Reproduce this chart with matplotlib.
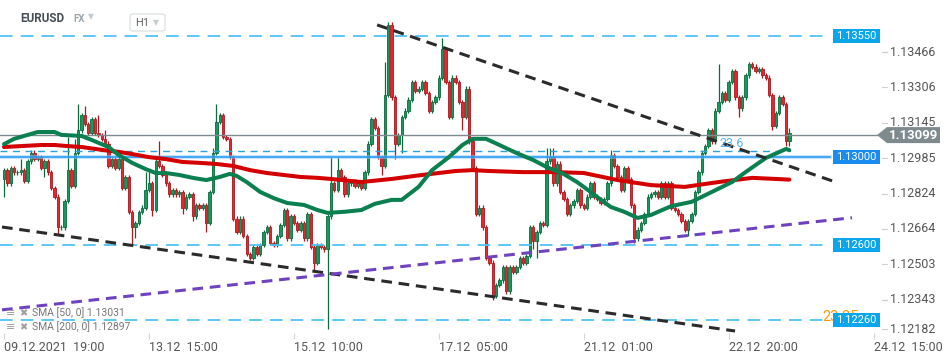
import matplotlib
matplotlib.use("Agg")
import matplotlib.pyplot as plt
from matplotlib.patches import Rectangle, Polygon, FancyBboxPatch
import numpy as np

plt.rcParams['font.family'] = ['Roboto', 'DejaVu Sans']

BASE = 1.12  # every *_pips value below is pips (0.0001) above 1.1200

# EURUSD H1 closes, candle 0 = 09.12 19:00
close_pips = [
    94, 88, 95, 93, 93, 94, 89, 98, 102, 99,
    100, 95, 98, 93, 86, 82, 68, 68, 80, 94,
    87, 102, 112, 119, 115, 111, 117, 111, 110, 108,
    106, 96, 99, 95, 99, 86, 91, 75, 68, 70,
    75, 77, 85, 88, 76, 98, 96, 92, 88, 83,
    85, 83, 84, 77, 82, 83, 73, 78, 77, 78,
    70, 84, 102, 116, 119, 109, 108, 100, 72, 66,
    72, 64, 56, 54, 59, 56, 60, 66, 68, 61,
    60, 64, 69, 76, 63, 73, 70, 67, 70, 63,
    74, 59, 52, 60, 59, 58, 73, 88, 85, 94,
    91, 83, 88, 89, 87, 88, 86, 93, 106, 117,
    113, 100, 96, 128, 160, 127, 106, 110, 118, 121,
    126, 134, 130, 131, 134, 129, 121, 125, 127, 136,
    149, 134, 118, 136, 134, 125, 118, 131, 107, 95,
    74, 77, 68, 54, 52, 37, 42, 44, 50, 39,
    50, 48, 50, 54, 52, 55, 68, 62, 66, 70,
    69, 98, 100, 88, 97, 84, 81, 74, 78, 80,
    85, 78, 77, 82, 88, 82, 81, 79, 81, 88,
    101, 96, 91, 85, 95, 90, 78, 63, 67, 70,
    74, 82, 83, 84, 82, 88, 82, 88, 77, 76,
    74, 71, 67, 71, 74, 84, 93, 102, 105, 112,
    107, 121, 125, 129, 126, 134, 139, 127, 122, 127,
    137, 142, 141, 139, 140, 137, 136, 128, 114, 120,
    127, 124, 107, 111,
]
first_open_pips = 90
# wick ends that stand out on the chart (candle index: pips); the rest get a short wick
high_pips = {5: 99, 19: 109, 21: 108, 22: 124, 24: 123, 28: 119, 30: 112, 42: 93,
             43: 93, 46: 107, 62: 104, 63: 124, 97: 100, 99: 100, 113: 143, 114: 161,
             115: 161, 130: 154, 161: 104, 162: 104, 163: 104, 180: 103, 212: 142, 233: 113}
low_pips = {0: 82, 12: 91, 16: 65, 38: 60, 39: 63, 44: 73, 53: 74, 56: 71, 60: 66,
            92: 48, 96: 22, 112: 92, 116: 99, 118: 102, 136: 112, 145: 35, 157: 58,
            158: 54, 187: 61, 203: 64, 218: 118, 228: 112, 232: 105, 233: 105}
WICK = 1.0

sma50_idx = [0, 3, 10, 15, 17, 23, 26, 31, 34, 38, 42, 45, 48, 52, 56, 60, 64, 67, 69, 72,
             76, 80, 84, 89, 93, 96, 101, 106, 110, 115, 118, 123, 127, 132, 136, 139, 143,
             147, 152, 157, 161, 166, 170, 172, 176, 180, 184, 188, 192, 198, 204, 210, 216,
             220, 226, 232, 233]
sma50_pips = [105.8, 108.2, 111.3, 111.3, 110.0, 109.5, 107.7, 104.5, 100.9, 97.3, 94.5,
              92.7, 92.7, 91.8, 90.5, 89.5, 90.9, 92.3, 91.4, 88.6, 84.1, 81.3, 79.1, 78.2,
              75.9, 74.6, 75.1, 75.9, 78.7, 80.5, 80.5, 86.4, 94.0, 99.9, 105.4, 108.2, 108.2,
              105.4, 101.8, 98.6, 95.4, 92.3, 88.6, 86.4, 81.8, 77.3, 75.1, 72.3, 73.7, 77.7,
              79.6, 84.1, 88.6, 93.1, 99.5, 103.6, 103.1]
sma200_idx = [0, 11, 15, 19, 23, 29, 34, 38, 43, 48, 53, 58, 63, 68, 73, 78, 83, 88, 93, 97,
              106, 115, 124, 134, 139, 144, 154, 164, 172, 182, 192, 202, 212, 222, 233]
sma200_pips = [104.5, 105.4, 105.4, 104.9, 104.5, 103.2, 102.3, 101.3, 99.9, 99.0, 97.7,
               97.3, 96.8, 95.9, 94.0, 92.7, 91.8, 90.9, 90.5, 90.0, 88.6, 90.0, 91.8, 93.6,
               94.0, 93.6, 93.1, 93.1, 92.7, 89.5, 87.2, 86.4, 88.6, 90.5, 89.7]

levels = [1.13550, 1.13000, 1.12600, 1.12260]
last_price = 1.13099
fib_236 = 1.13025
upper_tl = [(110.7, 1.13599), (247.5, 1.12882)]
lower_tl = [(-0.6, 1.12682), (216.9, 1.12210)]
purple_tl = [(-0.6, 1.12306), (251.6, 1.12724)]

xtick_idx = [0, 43, 86, 129, 172, 215, 258]
xtick_lab = ["09.12.2021  19:00", "13.12  15:00", "15.12  10:00", "17.12  05:00",
             "21.12  01:00", "22.12  20:00", "24.12  15:00"]
ytick_vals = [1.13466, 1.13306, 1.13145, 1.12985, 1.12824, 1.12664, 1.12503, 1.12343, 1.12182]

GREEN, GREEN_E = '#17985c', '#0b6b3c'
RED, RED_E = '#e5262f', '#b0161e'
LBLUE = '#4fc3f7'

W, H = 950, 361
fig = plt.figure(figsize=(W / 100, H / 100), dpi=100)
fig.patch.set_facecolor('white')
AX_B, AX_H, AX_W = 28, 333, 880
ax = fig.add_axes([0, AX_B / H, AX_W / W, AX_H / H])
ylo, yhi = 1.12201, 1.13712
ax.set_xlim(-1.19, 259.9)
ax.set_ylim(ylo, yhi)
for s in ax.spines.values():
    s.set_visible(False)
ax.set_yticks([])

def ypix(v):
    # pixel row (from top of figure) of a price
    return (yhi - v) / (yhi - ylo) * AX_H

def fpt(x, y):
    return (x / W, 1 - y / H)

# candles
n = len(close_pips)
idx = np.arange(n)
c = BASE + np.array(close_pips, float) / 1e4
o = np.r_[BASE + first_open_pips / 1e4, c[:-1]]
hi = np.maximum(o, c) + WICK / 1e4
lo = np.minimum(o, c) - WICK / 1e4
for k, v in high_pips.items():
    hi[k] = BASE + v / 1e4
for k, v in low_pips.items():
    lo[k] = BASE + v / 1e4
up = c >= o
body = np.maximum(np.abs(c - o), 0.00003)
ax.vlines(idx[up], lo[up], hi[up], color=GREEN_E, lw=0.9, zorder=3)
ax.vlines(idx[~up], lo[~up], hi[~up], color=RED_E, lw=0.9, zorder=3)
ax.bar(idx[up], body[up], bottom=o[up], width=0.7, color=GREEN, edgecolor=GREEN_E, lw=0.6, zorder=3)
ax.bar(idx[~up], body[~up], bottom=c[~up], width=0.7, color=RED, edgecolor=RED_E, lw=0.6, zorder=3)

# horizontal levels
lvl_end = 830 / AX_W
for v in levels:
    if abs(v - 1.13) < 1e-9:
        ax.axhline(v, xmax=lvl_end, color='#90caf9', lw=3, alpha=0.5, zorder=4)
        ax.axhline(v, xmax=lvl_end, color='#2196f3', lw=1.1, zorder=4)
    else:
        ax.axhline(v, xmax=lvl_end, color=LBLUE, lw=1.3, ls=(0, (7, 4.5)), zorder=4)
ax.axhline(fib_236, xmax=790 / AX_W, color='#29a3e0', lw=1.0, ls=(0, (5, 4)), zorder=4)
ax.text(216, 1.13063, "23.6", color='#4fb3f0', fontsize=9, ha='center', va='center', zorder=7)
ax.axhline(last_price, xmax=877 / AX_W, color='#7d8b8f', lw=1.0, zorder=4)

# moving averages
ax.plot(sma200_idx, BASE + np.array(sma200_pips) / 1e4, color='#d40000', lw=2.9,
        solid_capstyle='round', zorder=5)
ax.plot(sma50_idx, BASE + np.array(sma50_pips) / 1e4, color='#0a8050', lw=2.9,
        solid_capstyle='round', zorder=5)

# trend lines
for (pts, col) in [(upper_tl, '#2b2b2b'), (lower_tl, '#2b2b2b'), (purple_tl, '#6f42c1')]:
    ax.plot([p[0] for p in pts], [p[1] for p in pts], color=col, lw=2.2,
            ls=(0, (3.5, 2.2)), zorder=6, clip_on=False)

# orange fib text partly behind the 1.12260 box
fig.text(*fpt(822, 317), "23.35", color='#ff9800', fontsize=10.5, va='center', ha='left', zorder=1)

# level boxes
for v in levels:
    yc = ypix(v)
    col = '#1a8cf0' if abs(v - 1.13) < 1e-9 else '#0aa6ec'
    fig.patches.append(Rectangle(fpt(833, yc + 7), 47 / W, 14 / H, transform=fig.transFigure,
                                 facecolor=col, edgecolor='none', zorder=5))
    fig.text(*fpt(856.5, yc), f"{v:.5f}", color='white', fontsize=8, ha='center',
             va='center', zorder=6)

# right price scale
for v in ytick_vals:
    yc = ypix(max(v, 1.12210)) - 2
    fig.lines.append(plt.Line2D([882 / W, 887 / W], [1 - yc / H] * 2, transform=fig.transFigure,
                                color='#cfcfcf', lw=0.8))
    fig.text(*fpt(890, yc), f"{v:.5f}", color='#555555', fontsize=9, va='center', ha='left')

# current price tag
yc = ypix(last_price)
tag = [fpt(877, yc), fpt(887, yc - 8), fpt(940, yc - 8), fpt(940, yc + 8), fpt(887, yc + 8)]
fig.patches.append(Polygon(tag, closed=True, transform=fig.transFigure, facecolor='#7f8a8e',
                           edgecolor='none', zorder=7))
fig.text(*fpt(913, yc), f"{last_price:.5f}", color='white', fontsize=9.5, fontweight='bold',
         ha='center', va='center', zorder=8)

# time axis
ax.set_xticks(xtick_idx)
ax.set_xticklabels(xtick_lab, ha='left')
ax.tick_params(axis='x', length=4, color='#d5d5d5', labelsize=9, labelcolor='#555555', pad=2)

# header
fig.text(*fpt(20, 18), "EURUSD", color='#444d55', fontsize=8.5, fontweight='bold', va='center')
fig.text(*fpt(73, 19), "FX", color='#9aa5ad', fontsize=7, fontweight='bold', va='center')
fig.text(*fpt(88, 17), "▼", color='#c5ccd0', fontsize=5.5, va='center',
         family=['DejaVu Sans'])
fig.patches.append(FancyBboxPatch(fpt(130, 31), 35 / W, 17 / H, boxstyle='round,pad=0,rounding_size=0.004',
                                  transform=fig.transFigure, facecolor='white',
                                  edgecolor='#d8dde0', lw=0.8))
fig.text(*fpt(135, 22.5), "H1", color='#666666', fontsize=8, va='center')
fig.text(*fpt(153, 23), "▼", color='#c5ccd0', fontsize=5.5, va='center', family=['DejaVu Sans'])

# indicator legend
for yy, txt in [(313, "SMA [50, 0] 1.13031"), (327, "SMA [200, 0] 1.12897")]:
    fig.text(*fpt(6, yy), "≡", color='#9e9e9e', fontsize=8, va='center', family=['DejaVu Sans'], zorder=8)
    fig.text(*fpt(19, yy), "✖", color='#9e9e9e', fontsize=7, va='center', family=['DejaVu Sans'], zorder=8)
    fig.text(*fpt(32, yy), txt, color='#777777', fontsize=7.5, va='center', zorder=8)

fig.savefig("out.png", dpi=100, facecolor='white')
